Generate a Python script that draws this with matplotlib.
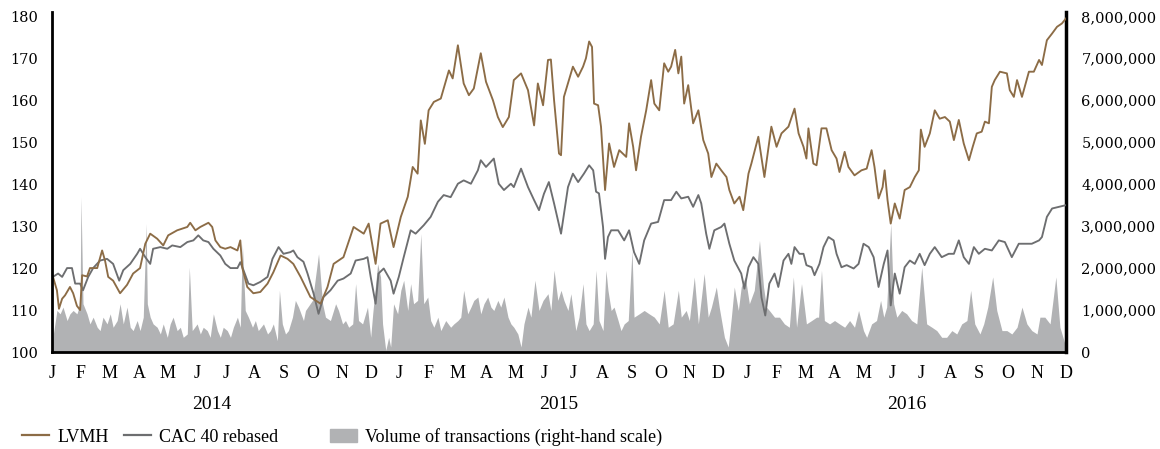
import numpy as np
import matplotlib
matplotlib.use("Agg")
import matplotlib.pyplot as plt
from matplotlib.lines import Line2D
from matplotlib.patches import Patch
from matplotlib.ticker import FuncFormatter

# time axis in months: 0 = Jan 2014 ... 35 = Dec 2016
months = ["J", "F", "M", "A", "M", "J", "J", "A", "S", "O", "N", "D"] * 3
years = ["2014", "2015", "2016"]

lvmh_t = [0.03, 0.17, 0.24, 0.35, 0.45, 0.62, 0.73, 0.86, 0.97, 1.04, 1.21, 1.31, 1.56, 1.73, 1.83,
          1.94, 2.11, 2.35, 2.59, 2.80, 3.04, 3.22, 3.39, 3.63, 3.84, 4.01, 4.32, 4.67, 4.77, 4.95,
          5.12, 5.40, 5.53, 5.64, 5.81, 5.98, 6.16, 6.40, 6.50, 6.57, 6.74, 6.95, 7.19, 7.44, 7.64,
          7.89, 8.13, 8.33, 8.58, 8.92, 9.27, 9.51, 9.72, 10.06, 10.41, 10.76, 10.93, 11.17, 11.34,
          11.59, 11.79, 12.04, 12.28, 12.45, 12.62, 12.73, 12.87, 13.00, 13.18, 13.42, 13.70, 13.83,
          14.01, 14.21, 14.39, 14.56, 14.80, 14.98, 15.22, 15.39, 15.56, 15.77, 15.94, 16.19, 16.43,
          16.64, 16.77, 16.95, 17.12, 17.22, 17.33, 17.50, 17.57, 17.67, 17.98, 18.16, 18.33, 18.43,
          18.54, 18.64, 18.71, 18.85, 18.95, 19.09, 19.23, 19.40, 19.58, 19.82, 19.92, 20.06, 20.16,
          20.33, 20.51, 20.68, 20.79, 20.96, 21.13, 21.27, 21.37, 21.51, 21.62, 21.72, 21.82, 21.96,
          22.13, 22.31, 22.48, 22.65, 22.76, 22.93, 23.10, 23.28, 23.38, 23.55, 23.73, 23.86, 24.04,
          24.14, 24.38, 24.59, 24.83, 25.01, 25.18, 25.42, 25.63, 25.77, 25.94, 26.04, 26.11, 26.28,
          26.39, 26.56, 26.73, 26.91, 27.08, 27.18, 27.36, 27.49, 27.70, 27.94, 28.12, 28.29, 28.39,
          28.53, 28.67, 28.74, 28.84, 28.95, 29.09, 29.26, 29.43, 29.61, 29.78, 29.92, 29.99, 30.12,
          30.30, 30.47, 30.64, 30.82, 30.99, 31.13, 31.30, 31.47, 31.65, 31.78, 31.92, 32.09, 32.20,
          32.34, 32.44, 32.54, 32.72, 32.96, 33.06, 33.20, 33.31, 33.48, 33.72, 33.89, 34.07, 34.17,
          34.34, 34.52, 34.69, 34.86, 35.00]
lvmh = [118.0, 114.7, 110.3, 112.7, 113.5, 115.5, 114.0, 111.0, 110.0, 118.3, 118.0, 120.0, 120.0, 124.2, 121.8,
        117.9, 117.0, 114.0, 116.0, 118.7, 120.0, 125.8, 128.2, 127.0, 125.4, 127.8, 129.0, 129.8, 130.8, 129.0,
        129.8, 130.8, 129.8, 126.6, 125.0, 124.6, 125.0, 124.2, 126.6, 120.0, 115.5, 114.0, 114.3, 116.3, 119.0,
        123.0, 122.2, 121.0, 117.9, 113.1, 111.5, 115.5, 121.0, 122.6, 129.8, 128.2, 130.6, 121.0, 130.6,
        131.4, 125.0, 132.2, 137.0, 144.1, 142.5, 155.2, 149.6, 157.6, 159.6, 160.4, 167.1, 165.2,
        173.1, 164.0, 161.2, 162.8, 171.2, 164.4, 160.0, 156.0, 153.6, 156.0, 164.8, 166.4, 162.4,
        154.0, 164.0, 158.8, 169.6, 169.7, 160.0, 147.3, 146.9, 160.8, 168.0, 165.6, 168.0, 170.0,
        174.0, 172.7, 159.2, 158.8, 153.7, 138.6, 149.7, 144.1, 148.1, 146.5, 154.5, 148.9, 143.3,
        151.3, 157.6, 164.8, 159.2, 157.6, 168.8, 166.8, 168.0, 172.0, 166.4, 170.4, 159.2, 163.6,
        154.5, 157.6, 150.5, 147.3, 141.7, 144.9, 143.3, 141.7, 138.6, 135.4, 137.0, 133.8, 142.5,
        144.9, 151.3, 141.7, 153.7, 148.9, 152.1, 153.7, 158.0, 152.1, 148.9, 146.1, 153.3, 144.9,
        144.5, 153.3, 153.3, 148.1, 146.1, 142.9, 147.7, 144.1, 142.1, 143.3, 143.7, 148.1, 144.1,
        136.6, 139.3, 143.3, 136.2, 130.6, 135.4, 131.8, 138.6, 139.3, 141.7, 143.3, 153.0, 148.9,
        152.1, 157.6, 155.6, 156.0, 154.9, 150.5, 155.3, 149.7, 145.7, 148.9, 152.1, 152.5, 154.9,
        154.5, 163.2, 164.8, 166.8, 166.4, 162.4, 160.8, 164.8, 160.8, 166.8, 166.8, 169.6, 168.4,
        174.3, 175.9, 177.5, 178.3, 179.5]

cac_t = [0.03, 0.21, 0.35, 0.52, 0.69, 0.80, 0.97, 1.07, 1.25, 1.42, 1.66, 1.90, 2.11, 2.32, 2.46,
         2.70, 2.94, 3.04, 3.22, 3.39, 3.49, 3.74, 3.98, 4.15, 4.43, 4.67, 4.88, 5.05, 5.22, 5.40,
         5.57, 5.81, 5.98, 6.16, 6.40, 6.50, 6.61, 6.78, 6.95, 7.19, 7.44, 7.61, 7.82, 7.99, 8.23,
         8.33, 8.47, 8.68, 8.82, 9.03, 9.20, 9.37, 9.61, 9.86, 10.06, 10.31, 10.48, 10.76, 10.89,
         11.00, 11.17, 11.27, 11.45, 11.69, 11.79, 11.97, 12.14, 12.38, 12.55, 12.83, 13.07, 13.32,
         13.52, 13.76, 14.01, 14.21, 14.46, 14.70, 14.80, 14.98, 15.25, 15.42, 15.60, 15.84, 15.94,
         16.19, 16.43, 16.64, 16.81, 16.98, 17.15, 17.33, 17.57, 17.81, 17.98, 18.16, 18.36, 18.54,
         18.68, 18.78, 18.88, 19.02, 19.09, 19.19, 19.30, 19.54, 19.75, 19.92, 20.09, 20.27, 20.44,
         20.68, 20.92, 21.13, 21.37, 21.55, 21.72, 21.96, 22.13, 22.31, 22.41, 22.58, 22.69, 22.86,
         23.10, 23.21, 23.38, 23.55, 23.79, 23.90, 24.04, 24.21, 24.38, 24.49, 24.62, 24.76, 24.94,
         25.07, 25.25, 25.42, 25.52, 25.63, 25.80, 25.94, 26.04, 26.22, 26.32, 26.49, 26.63, 26.80,
         26.98, 27.08, 27.25, 27.43, 27.67, 27.84, 28.01, 28.19, 28.36, 28.53, 28.71, 28.84, 28.95,
         29.09, 29.26, 29.43, 29.61, 29.78, 29.95, 30.12, 30.30, 30.47, 30.71, 30.95, 31.13, 31.30,
         31.47, 31.65, 31.82, 31.99, 32.20, 32.44, 32.68, 32.89, 33.13, 33.37, 33.58, 33.82, 34.07,
         34.17, 34.34, 34.52, 34.76, 35.00]
cac = [117.9, 118.7, 117.9, 120.0, 120.0, 116.3, 116.3, 114.7, 117.9, 120.0, 121.8, 122.2, 121.0, 117.0, 119.5,
       121.0, 123.4, 124.6, 122.6, 121.0, 124.6, 125.0, 124.6, 125.4, 125.0, 126.2, 126.6, 127.8, 126.6, 126.2,
       124.6, 123.0, 121.0, 120.0, 120.0, 121.4, 119.5, 116.3, 115.9, 116.7, 117.9, 122.2, 125.0, 123.4, 123.8,
       124.2, 122.6, 121.5, 118.7, 113.9, 109.1, 113.1, 114.7, 117.0, 117.5, 118.7, 121.8, 122.2, 122.6,
       117.9, 111.5, 118.7, 119.9, 117.0, 113.9, 117.9, 122.6, 129.0, 128.2, 130.2, 132.2, 135.8,
       137.4, 136.9, 140.1, 140.9, 140.1, 143.3, 145.7, 144.1, 146.1, 140.1, 138.6, 140.1, 139.3,
       143.7, 139.3, 136.2, 133.8, 137.7, 140.5, 135.4, 128.2, 139.3, 142.5, 140.5, 142.5, 144.5,
       143.3, 138.2, 137.8, 129.8, 122.2, 127.4, 129.0, 129.0, 126.6, 129.0, 123.8, 121.0, 126.6,
       130.6, 131.0, 136.2, 136.2, 138.2, 136.6, 137.0, 134.6, 137.4, 135.4, 128.2, 124.6, 129.0,
       129.8, 130.6, 125.8, 121.8, 118.7, 115.1, 120.2, 122.6, 121.0, 113.0, 108.7, 116.3, 118.7,
       115.5, 121.8, 123.4, 121.0, 125.0, 123.4, 123.4, 120.7, 120.2, 118.3, 121.0, 125.0, 127.4,
       126.6, 123.4, 120.2, 120.7, 119.9, 121.0, 125.8, 125.0, 122.6, 115.5, 121.0, 124.2, 111.1,
       118.7, 113.9, 120.2, 121.8, 121.0, 123.4, 120.7, 123.4, 125.0, 122.6, 123.4, 123.4, 126.6,
       122.6, 121.0, 125.0, 123.4, 124.6, 124.2, 126.6, 126.2, 122.6, 125.8, 125.8, 125.8, 126.6,
       127.4, 132.2, 134.2, 134.6, 135.0]

vol_t = [0.00, 0.03, 0.17, 0.28, 0.38, 0.52, 0.62, 0.73, 0.86, 0.97, 1.00, 1.07, 1.21, 1.31, 1.42,
         1.56, 1.66, 1.76, 1.90, 2.01, 2.11, 2.25, 2.35, 2.46, 2.59, 2.70, 2.80, 2.94, 3.04, 3.15,
         3.25, 3.29, 3.39, 3.49, 3.63, 3.74, 3.84, 3.98, 4.08, 4.18, 4.32, 4.43, 4.53, 4.67, 4.74,
         4.84, 5.01, 5.12, 5.22, 5.36, 5.46, 5.57, 5.71, 5.81, 5.91, 6.05, 6.16, 6.26, 6.40, 6.50,
         6.57, 6.67, 6.78, 6.92, 7.02, 7.12, 7.30, 7.44, 7.54, 7.64, 7.78, 7.85, 7.95, 8.06, 8.16,
         8.30, 8.40, 8.51, 8.68, 8.75, 8.99, 9.20, 9.34, 9.44, 9.61, 9.79, 9.89, 10.03, 10.13, 10.24,
         10.38, 10.48, 10.58, 10.72, 10.89, 11.00, 11.07, 11.24, 11.34, 11.41, 11.52, 11.62, 11.69,
         11.79, 11.93, 12.04, 12.14, 12.28, 12.38, 12.48, 12.62, 12.73, 12.83, 12.97, 13.07, 13.18,
         13.32, 13.42, 13.59, 13.76, 13.87, 14.01, 14.11, 14.21, 14.35, 14.46, 14.56, 14.70, 14.80,
         14.91, 15.04, 15.15, 15.25, 15.39, 15.49, 15.60, 15.74, 15.84, 15.94, 16.08, 16.19, 16.29,
         16.43, 16.53, 16.67, 16.81, 16.95, 17.12, 17.22, 17.33, 17.46, 17.57, 17.67, 17.81, 17.91,
         18.08, 18.19, 18.33, 18.43, 18.54, 18.68, 18.78, 18.88, 19.02, 19.12, 19.19, 19.30, 19.40,
         19.54, 19.64, 19.75, 19.89, 20.02, 20.09, 20.27, 20.44, 20.61, 20.79, 20.96, 21.13, 21.27,
         21.44, 21.62, 21.72, 21.89, 22.00, 22.17, 22.31, 22.51, 22.65, 22.76, 22.93, 23.03, 23.21,
         23.34, 23.45, 23.55, 23.69, 23.79, 23.93, 24.07, 24.24, 24.42, 24.56, 24.66, 24.76, 24.94,
         25.11, 25.28, 25.45, 25.59, 25.70, 25.87, 26.04, 26.22, 26.39, 26.46, 26.56, 26.66, 26.84,
         27.01, 27.18, 27.36, 27.53, 27.70, 27.84, 28.01, 28.12, 28.29, 28.46, 28.60, 28.71, 28.81,
         28.95, 29.05, 29.16, 29.33, 29.50, 29.67, 29.85, 30.02, 30.19, 30.37, 30.54, 30.71, 30.88,
         31.06, 31.23, 31.40, 31.58, 31.71, 31.85, 32.03, 32.16, 32.30, 32.47, 32.61, 32.79, 32.96,
         33.13, 33.31, 33.48, 33.65, 33.82, 34.00, 34.10, 34.27, 34.45, 34.65, 34.79, 34.96, 35.00]
# volume in millions of shares
volume = [0.05, 0.35, 0.99, 0.91, 1.07, 0.75, 0.91, 0.99, 0.91, 1.15, 3.70, 1.15, 0.91, 0.67, 0.83,
          0.59, 0.51, 0.83, 0.67, 0.91, 0.59, 0.75, 1.15, 0.67, 1.07, 0.59, 0.51, 0.75, 0.51, 0.83,
          3.06, 1.15, 0.83, 0.67, 0.59, 0.43, 0.67, 0.35, 0.67, 0.83, 0.51, 0.59, 0.35, 0.43, 2.02,
          0.51, 0.67, 0.43, 0.59, 0.51, 0.35, 0.91, 0.51, 0.35, 0.59, 0.51, 0.35, 0.59, 0.83, 0.59,
          2.58, 0.99, 0.83, 0.59, 0.75, 0.51, 0.67, 0.43, 0.51, 0.67, 0.27, 1.47, 0.67, 0.43, 0.51,
          0.83, 1.23, 1.07, 0.75, 0.99, 1.23, 2.34, 1.15, 0.83, 0.75, 1.15, 0.99, 0.67, 0.75, 0.59,
          0.67, 1.63, 0.75, 0.67, 1.07, 0.35, 0.91, 2.10, 1.79, 0.67, 0.04, 0.35, 0.12,
          1.15, 0.91, 1.47, 1.71, 0.99, 1.63, 1.15, 1.23, 2.82, 1.15, 1.31, 0.75, 0.59,
          0.83, 0.51, 0.75, 0.59, 0.67, 0.75, 0.83, 1.47, 0.91, 1.07, 1.23, 1.31, 0.91,
          1.15, 1.31, 1.07, 0.99, 1.23, 1.07, 1.31, 0.83, 0.67, 0.59, 0.43, 0.12, 0.67,
          1.07, 0.83, 1.71, 0.99, 1.23, 1.39, 0.99, 1.95, 1.23, 1.47, 1.23, 0.99, 1.39,
          0.51, 0.83, 1.63, 0.67, 0.51, 0.67, 1.95, 0.75, 0.51, 1.95, 1.47, 0.99, 1.07,
          0.75, 0.51, 0.67, 0.75, 2.42, 0.83, 0.91, 0.99, 0.91, 0.83, 0.67, 1.47, 0.59,
          0.67, 1.47, 0.83, 0.99, 0.75, 1.79, 0.67, 1.87, 0.83, 1.07, 1.55, 1.07, 0.35,
          0.12, 0.83, 1.55, 0.99, 1.55, 1.79, 1.15, 1.47, 2.66, 1.55, 1.07, 0.99, 0.83,
          0.83, 0.67, 0.59, 1.79, 0.59, 1.63, 0.67, 0.75, 0.83, 0.83, 1.95, 0.75, 0.67,
          0.75, 0.67, 0.59, 0.75, 0.59, 0.99, 0.51, 0.35, 0.67, 0.75, 1.23, 0.83, 1.07,
          3.06, 1.15, 0.83, 0.99, 0.91, 0.75, 0.67, 2.02, 0.67, 0.59, 0.51, 0.35, 0.35,
          0.51, 0.43, 0.67, 0.75, 1.47, 0.67, 0.43, 0.67, 1.07, 1.79, 0.99, 0.51, 0.51,
          0.43, 0.59, 1.07, 0.67, 0.51, 0.43, 0.83, 0.83, 0.67, 1.79, 0.59, 0.20, 0.05]

brown = "#8c6c46"
grey = "#6d6e70"
light = "#b1b2b4"

fig = plt.figure(figsize=(11.6, 4.49), dpi=100)
ax = fig.add_axes([52 / 1160, 1 - 352 / 449, (1066 - 52) / 1160, (352 - 11.7) / 449])
ax2 = ax.twinx()

ax2.fill_between(vol_t, 0, np.array(volume) * 1e6, color=light, lw=0)
ax.plot(cac_t, cac, color=grey, lw=1.35)
ax.plot(lvmh_t, lvmh, color=brown, lw=1.35)

ax.set_zorder(ax2.get_zorder() + 1)
ax.patch.set_visible(False)

ax.set_xlim(0, 35)
ax.set_ylim(100, 181.1)
ax2.set_ylim(0, 8.11e6)

num_font = "DejaVu Serif"
txt_font = "Liberation Serif"

ax.set_yticks(range(100, 181, 10))
ax.tick_params(axis="y", length=0, pad=10, labelsize=10.5)
for lab in ax.get_yticklabels():
    lab.set_fontfamily(num_font)

ax2.set_yticks(np.arange(0, 8.01e6, 1e6))
ax2.yaxis.set_major_formatter(FuncFormatter(lambda v, p: f"{int(v):,}"))
ax2.tick_params(axis="y", length=0, pad=11, labelsize=10.5)
for lab in ax2.get_yticklabels():
    lab.set_fontfamily(num_font)

ax.set_xticks(range(36))
ax.set_xticklabels(months, fontfamily=txt_font, fontsize=13)
ax.tick_params(axis="x", length=0, pad=9)

for i, yr in enumerate(years):
    ax.text(5.5 + 12 * i, -0.155, yr, transform=ax.get_xaxis_transform(),
            ha="center", va="center", fontfamily=txt_font, fontsize=14)

for a in (ax, ax2):
    a.spines["top"].set_visible(False)
ax.spines["left"].set_linewidth(2)
ax.spines["bottom"].set_linewidth(2)
ax2.spines["right"].set_linewidth(2.5)
ax2.spines["left"].set_visible(False)
ax2.spines["bottom"].set_visible(False)

# legend entries placed one by one along the bottom
handles = [Line2D([], [], color=brown, lw=1.6),
           Line2D([], [], color=grey, lw=1.6),
           Patch(color=light)]
labels = ["LVMH", "CAC 40 rebased", "Volume of transactions (right-hand scale)"]
legend_x = [22, 124, 330]
for h, lab, lx in zip(handles, labels, legend_x):
    fig.legend([h], [lab], loc="center left", bbox_to_anchor=(lx / 1160, 1 - 437 / 449),
               frameon=False, prop={"family": txt_font, "size": 13}, handlelength=1.5,
               handletextpad=0.45, borderaxespad=0, borderpad=0)

fig.savefig("out.png", dpi=100)
